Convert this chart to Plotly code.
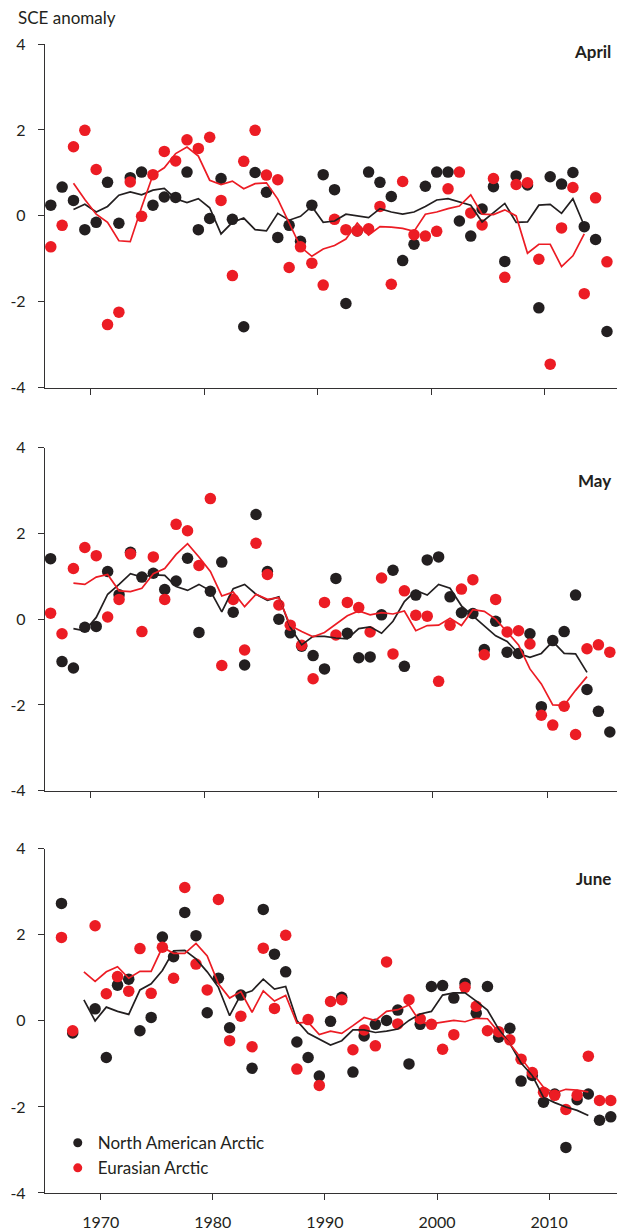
import plotly.graph_objects as go

YEARS = list(range(1966, 2016))
LINE_YEARS = list(range(1968, 2014))

# ---------------- April ----------------
APR_NA = [0.25, 0.67, 0.36, -0.32, -0.15, 0.78, -0.17, 0.89, 1.02, 0.25,
          0.44, 0.43, 1.02, -0.32, -0.06, 0.87, -0.08, -2.58, 1.01, 0.55,
          -0.5, -0.22, -0.59, 0.25, 0.96, 0.61, -2.04, -0.35, 1.02, 0.78,
          0.45, -1.04, -0.66, 0.69, 1.02, 1.02, -0.12, -0.47, 0.16, 0.68,
          -1.06, 0.93, 0.72, -2.14, 0.91, 0.74, 1.01, -0.25, -0.55, -2.69]
APR_EU = [-0.72, -0.22, 1.61, 1.99, 1.08, -2.53, -2.24, 0.79, -0.01, 0.96,
          1.5, 1.28, 1.77, 1.57, 1.83, 0.36, -1.39, 1.27, 1.99, 0.95,
          0.84, -1.2, -0.72, -1.1, -1.61, -0.08, -0.32, -0.35, -0.3, 0.22,
          -1.59, 0.8, -0.44, -0.47, -0.36, 0.63, 1.02, 0.07, -0.21, 0.87,
          -1.43, 0.73, 0.77, -1.01, -3.45, -0.28, 0.66, -1.81, 0.42, -1.07]
APR_NA_MEAN = [0.15, 0.27, 0.09, 0.22, 0.48, 0.56, 0.49, 0.6, 0.64, 0.4,
               0.31, 0.4, 0.19, -0.42, -0.15, -0.05, -0.32, -0.35, 0.06, -0.1,
               -0.01, 0.22, -0.15, -0.12, 0.04, 0.0, -0.04, 0.17, 0.09, 0.04,
               0.09, 0.22, 0.37, 0.4, 0.33, 0.25, -0.14, 0.08, 0.29, -0.15,
               -0.14, 0.25, 0.27, 0.06, 0.4, -0.23]
APR_EU_MEAN = [0.76, 0.38, 0.04, -0.15, -0.58, -0.6, 0.2, 0.95, 1.12, 1.45,
               1.6, 1.39, 0.83, 0.73, 0.81, 0.63, 0.75, 0.77, 0.39, -0.18,
               -0.72, -0.94, -0.77, -0.69, -0.54, -0.17, -0.45, -0.25, -0.26, -0.29,
               -0.36, 0.04, 0.09, 0.17, 0.23, 0.49, 0.04, 0.03, 0.14, 0.0,
               -0.87, -0.66, -0.66, -1.18, -0.93, -0.42]

# ---------------- May ----------------
MAY_NA = [1.41, -0.99, -1.14, -0.19, -0.17, 1.11, 0.57, 1.56, 0.98, 1.07,
          0.69, 0.89, 1.42, -0.31, 0.65, 1.33, 0.16, -1.07, 2.44, 1.11,
          0.0, -0.32, -0.63, -0.85, -1.16, 0.95, -0.33, -0.9, -0.88, 0.1,
          1.14, -1.1, 0.56, 1.38, 1.45, 0.52, 0.15, 0.13, -0.71, -0.05,
          -0.77, -0.8, -0.34, -2.04, -0.5, -0.29, 0.56, -1.64, -2.15, -2.63]
MAY_EU = [0.14, -0.34, 1.18, 1.67, 1.48, 0.05, 0.46, 1.52, -0.29, 1.45,
          0.46, 2.21, 2.06, 1.25, 2.81, -1.08, 0.46, -0.72, 1.77, 1.04,
          0.33, -0.14, -0.61, -1.39, 0.39, -0.37, 0.39, 0.27, -0.3, 0.96,
          -0.81, 0.66, 0.09, 0.07, -1.45, -0.14, 0.7, 0.92, -0.83, 0.46,
          -0.3, -0.27, -0.58, -2.24, -2.47, -2.03, -2.69, -0.69, -0.6, -0.77]
MAY_NA_MEAN = [-0.22, -0.27, 0.04, 0.58, 0.81, 1.06, 0.98, 1.03, 1.02, 0.76,
               0.67, 0.81, 0.66, 0.17, 0.71, 0.81, 0.58, 0.44, 0.52, -0.19,
               -0.6, -0.4, -0.4, -0.44, -0.46, -0.22, -0.18, -0.33, -0.05, 0.41,
               0.67, 0.56, 0.81, 0.72, 0.31, 0.08, -0.15, -0.39, -0.52, -0.8,
               -0.89, -0.8, -0.52, -0.8, -0.81, -1.24]
MAY_EU_MEAN = [0.84, 0.81, 0.98, 1.04, 0.66, 0.64, 0.72, 1.06, 1.18, 1.51,
               1.76, 1.45, 1.11, 0.54, 0.63, 0.29, 0.58, 0.46, 0.5, -0.15,
               -0.29, -0.41, -0.31, -0.12, 0.08, 0.19, 0.1, 0.15, 0.12, 0.19,
               -0.27, -0.15, -0.14, 0.02, -0.15, 0.22, 0.18, 0.0, -0.29, -0.6,
               -1.16, -1.51, -2.0, -2.01, -1.66, -1.34]

# ---------------- June ----------------
JUN_NA = [2.73, -0.28, None, 0.28, -0.85, 0.83, 0.97, -0.23, 0.08, 1.95,
          1.49, 2.52, 1.98, 0.19, 0.99, -0.16, 0.6, -1.1, 2.59, 1.55,
          1.14, -0.49, -0.85, -1.28, -0.01, 0.55, -1.19, -0.35, -0.08, 0.01,
          0.25, -1.0, -0.08, 0.8, 0.82, 0.53, 0.87, 0.18, 0.8, -0.38,
          -0.17, -1.4, -1.27, -1.89, -1.7, -2.94, -1.83, -1.7, -2.31, -2.23]
JUN_EU = [1.94, -0.23, None, 2.21, 0.63, 1.03, 0.69, 1.68, 0.64, 1.71,
          0.99, 3.1, 1.32, 0.72, 2.82, -0.46, 0.11, -0.6, 1.69, 0.29,
          1.99, -1.12, 0.03, -1.5, 0.45, 0.49, -0.67, -0.21, -0.58, 1.37,
          -0.07, 0.49, 0.05, -0.08, -0.66, -0.32, 0.78, 0.34, -0.23, -0.25,
          -0.44, -0.89, -1.2, -1.66, -1.73, -2.06, -1.73, -0.82, -1.85, -1.85]
JUN_NA_MEAN = [0.49, 0.0, 0.32, 0.22, 0.15, 0.72, 0.86, 1.17, 1.63, 1.64,
               1.44, 1.14, 0.78, 0.12, 0.61, 0.7, 0.97, 0.74, 0.8, 0.01,
               -0.29, -0.43, -0.56, -0.46, -0.21, -0.21, -0.27, -0.24, -0.19, 0.01,
               0.16, 0.22, 0.6, 0.65, 0.65, 0.46, 0.25, -0.19, -0.53, -0.98,
               -1.27, -1.78, -1.9, -2.0, -2.08, -2.2]
JUN_EU_MEAN = [1.14, 0.92, 1.14, 1.26, 0.99, 1.15, 1.15, 1.71, 1.57, 1.57,
               1.8, 1.51, 0.86, 0.53, 0.68, 0.2, 0.7, 0.46, 0.59, -0.05,
               -0.03, -0.32, -0.24, -0.29, -0.11, 0.08, 0.01, 0.22, 0.26, 0.37,
               -0.03, -0.07, -0.03, 0.01, -0.02, 0.06, 0.05, -0.26, -0.53, -0.86,
               -1.19, -1.54, -1.68, -1.59, -1.61, -1.65]

MONTHS = ["April", "May", "June"]
SERIES_NAMES = ["North American Arctic", "Eurasian Arctic"]
Y_TICKS = [-4, -2, 0, 2, 4]
Y_TICK_TEXT = ["-4", "-2", "0", "2", "4"]
X_TICKS = [1970, 1980, 1990, 2000, 2010]
X_TICK_TEXT = ["1970", "1980", "1990", "2000", "2010"]

BLACK = "#231f20"
RED = "#ec1c24"
AXIS = "#333132"
FONT = "Lato"

panels = [
    (APR_NA, APR_EU, APR_NA_MEAN, APR_EU_MEAN),
    (MAY_NA, MAY_EU, MAY_NA_MEAN, MAY_EU_MEAN),
    (JUN_NA, JUN_EU, JUN_NA_MEAN, JUN_EU_MEAN),
]

# points and means are centred on the middle of each year
mid = [y + 0.5 for y in YEARS]
mid_line = [y + 0.5 for y in LINE_YEARS]

fig = go.Figure()
for i, (na, eu, na_m, eu_m) in enumerate(panels):
    xa = "x" if i == 0 else f"x{i+1}"
    ya = "y" if i == 0 else f"y{i+1}"
    fig.add_trace(go.Scatter(x=mid, y=na, mode="markers", xaxis=xa, yaxis=ya,
                             marker=dict(color=BLACK, size=11.5), showlegend=False,
                             cliponaxis=False))
    fig.add_trace(go.Scatter(x=mid, y=eu, mode="markers", xaxis=xa, yaxis=ya,
                             marker=dict(color=RED, size=11.5), showlegend=False,
                             cliponaxis=False))
    fig.add_trace(go.Scatter(x=mid_line, y=na_m, mode="lines", xaxis=xa, yaxis=ya,
                             line=dict(color=BLACK, width=1.7), showlegend=False))
    fig.add_trace(go.Scatter(x=mid_line, y=eu_m, mode="lines", xaxis=xa, yaxis=ya,
                             line=dict(color=RED, width=1.7), showlegend=False))

# legend entries
for name, col in zip(SERIES_NAMES, [BLACK, RED]):
    fig.add_trace(go.Scatter(x=[None], y=[None], mode="markers", name=name,
                             xaxis="x3", yaxis="y3",
                             marker=dict(color=col, size=9)))

axis_common = dict(showline=True, linecolor=AXIS, linewidth=1.3,
                   ticks="outside", ticklen=6, tickwidth=1.3, tickcolor=AXIS,
                   showgrid=False, zeroline=False,
                   tickfont=dict(family=FONT, size=16, color=BLACK))

x_ranges = [[1965.99, 2017.09], [1966.01, 2016.83], [1965.03, 2016.77]]
y_domains = [[0.7008, 1.0], [0.3501, 0.6488], [0.0, 0.2996]]

# the page adds an 8px body margin, so the figure is sized to the remaining view
layout = dict(
    width=617, height=1223,
    margin=dict(l=37, r=0, t=36, b=33),
    paper_bgcolor="white", plot_bgcolor="white",
    font=dict(family=FONT, color=BLACK),
    showlegend=True,
    legend=dict(x=0.022, y=0.059, xanchor="left", yanchor="top",
                bgcolor="rgba(0,0,0,0)", font=dict(family=FONT, size=17, color=BLACK),
                itemsizing="trace"),
)
for i in range(3):
    xk = "xaxis" if i == 0 else f"xaxis{i+1}"
    yk = "yaxis" if i == 0 else f"yaxis{i+1}"
    ya = "y" if i == 0 else f"y{i+1}"
    xa = "x" if i == 0 else f"x{i+1}"
    layout[xk] = dict(axis_common, domain=[0, 1], range=x_ranges[i], anchor=ya,
                      tickvals=X_TICKS, ticktext=X_TICK_TEXT,
                      showticklabels=(i == 2), ticklabelstandoff=9)
    layout[yk] = dict(axis_common, domain=y_domains[i], range=[-4, 4], anchor=xa,
                      tickvals=Y_TICKS, ticktext=Y_TICK_TEXT, ticklabelstandoff=9)
fig.update_layout(**layout)

title_pos = [(0.979, 0.978), (0.979, 0.903), (0.979, 0.914)]
for i, (m, (px, py)) in enumerate(zip(MONTHS, title_pos)):
    xa = "x" if i == 0 else f"x{i+1}"
    ya = "y" if i == 0 else f"y{i+1}"
    fig.add_annotation(text=f"<b>{m}</b>", xref=f"{xa} domain", yref=f"{ya} domain",
                       x=px, y=py, xanchor="right", yanchor="middle", showarrow=False,
                       font=dict(family=FONT, size=17, color=BLACK))

fig.add_annotation(text="SCE anomaly", xref="paper", yref="paper",
                   x=-0.05, y=1.0234, xanchor="left", yanchor="middle",
                   showarrow=False, font=dict(family=FONT, size=17, color=BLACK))

fig.write_html("out.html")
